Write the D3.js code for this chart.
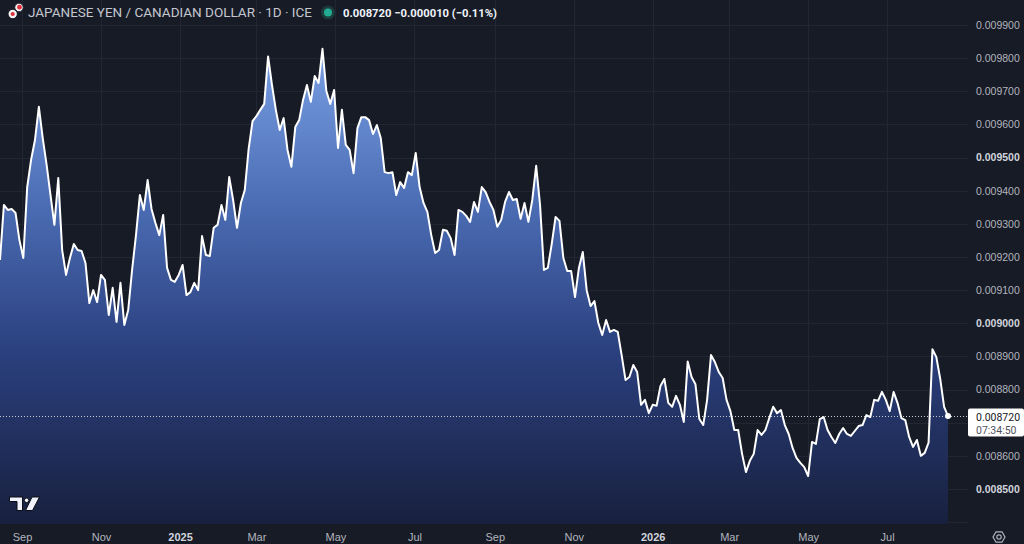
<!DOCTYPE html>
<html>
<head>
<meta charset="utf-8">
<script src="https://cdn.jsdelivr.net/npm/d3@7"></script>
<style>
  html, body { margin: 0; padding: 0; background: #171b26; }
  svg { display: block; font-family: Roboto, "Noto Sans", sans-serif; }
</style>
</head>
<body>
<div id="chart"></div>
<script>
// Header texts
const title = "JAPANESE YEN / CANADIAN DOLLAR · 1D · ICE";
const quote = "0.008720 −0.000010 (−0.11%)";
const lastLabel = "0.008720";
const countdown = "07:34:50";

// Series: one close read every 3 days from the picture
const startDate = "2024-08-15";
const stepDays = 3;
const values = [
  0.009191, 0.009357, 0.009342, 0.009345, 0.009333, 0.009251, 0.009197, 0.009411, 0.009493, 0.009553,
  0.009653, 0.009559, 0.009478, 0.009387, 0.009297, 0.009438, 0.009221, 0.009146, 0.009197, 0.009239,
  0.009221, 0.009218, 0.009182, 0.009061, 0.009100, 0.009064, 0.009146, 0.009131, 0.009025, 0.009107,
  0.009004, 0.009122, 0.008995, 0.009040, 0.009161, 0.009266, 0.009387, 0.009342, 0.009432, 0.009345,
  0.009303, 0.009266, 0.009327, 0.009167, 0.009131, 0.009125, 0.009146, 0.009176, 0.009085, 0.009094,
  0.009122, 0.009100, 0.009263, 0.009206, 0.009203, 0.009288, 0.009297, 0.009357, 0.009312, 0.009441,
  0.009372, 0.009288, 0.009363, 0.009402, 0.009526, 0.009610, 0.009625, 0.009644, 0.009662, 0.009805,
  0.009719, 0.009644, 0.009583, 0.009619, 0.009523, 0.009472, 0.009592, 0.009613, 0.009674, 0.009719,
  0.009668, 0.009746, 0.009725, 0.009828, 0.009701, 0.009662, 0.009704, 0.009529, 0.009644, 0.009538,
  0.009523, 0.009453, 0.009589, 0.009622, 0.009622, 0.009613, 0.009571, 0.009598, 0.009559, 0.009456,
  0.009453, 0.009456, 0.009387, 0.009426, 0.009408, 0.009456, 0.009447, 0.009514, 0.009411, 0.009363,
  0.009336, 0.009266, 0.009212, 0.009221, 0.009282, 0.009279, 0.009257, 0.009206, 0.009342, 0.009336,
  0.009324, 0.009306, 0.009366, 0.009336, 0.009411, 0.009396, 0.009366, 0.009342, 0.009291, 0.009312,
  0.009366, 0.009396, 0.009372, 0.009375, 0.009315, 0.009363, 0.009306, 0.009372, 0.009475, 0.009357,
  0.009161, 0.009167, 0.009239, 0.009321, 0.009309, 0.009197, 0.009158, 0.009158, 0.009079, 0.009167,
  0.009215, 0.009100, 0.009052, 0.009067, 0.009001, 0.008965, 0.009010, 0.008974, 0.008980, 0.008974,
  0.008904, 0.008829, 0.008838, 0.008874, 0.008853, 0.008754, 0.008769, 0.008729, 0.008754, 0.008751,
  0.008811, 0.008832, 0.008760, 0.008748, 0.008781, 0.008754, 0.008702, 0.008885, 0.008838, 0.008816,
  0.008711, 0.008693, 0.008769, 0.008904, 0.008883, 0.008853, 0.008835, 0.008769, 0.008735, 0.008678,
  0.008678, 0.008606, 0.008551, 0.008585, 0.008606, 0.008678, 0.008663, 0.008678, 0.008714, 0.008748,
  0.008729, 0.008738, 0.008693, 0.008666, 0.008624, 0.008594, 0.008579, 0.008566, 0.008539, 0.008642,
  0.008636, 0.008711, 0.008717, 0.008678, 0.008657, 0.008639, 0.008666, 0.008684, 0.008666, 0.008660,
  0.008675, 0.008690, 0.008693, 0.008723, 0.008717, 0.008769, 0.008766, 0.008793, 0.008769, 0.008735,
  0.008793, 0.008760, 0.008714, 0.008708, 0.008657, 0.008627, 0.008648, 0.008600, 0.008609, 0.008640,
  0.008922, 0.008898, 0.008832, 0.008748, 0.008720
];

// Axis ticks
const xTickDates = [
  "2024-09-01", "2024-11-01", "2025-01-01", "2025-03-01", "2025-05-01", "2025-07-01",
  "2025-09-01", "2025-11-01", "2026-01-01", "2026-03-01", "2026-05-01", "2026-07-01"
];
const yGridValues = [0.0084, 0.0085, 0.0086, 0.0087, 0.0088, 0.0089, 0.0090, 0.0091,
  0.0092, 0.0093, 0.0094, 0.0095, 0.0096, 0.0097, 0.0098, 0.0099];
// 0.008700 is hidden under the last price box
const yLabelValues = [0.0085, 0.0086, 0.0088, 0.0089, 0.0090, 0.0091,
  0.0092, 0.0093, 0.0094, 0.0095, 0.0096, 0.0097, 0.0098, 0.0099];

const width = 1024;
const height = 544;
const plot = { left: 0, right: 968, top: 0, bottom: 524 };

const parse = d3.utcParse("%Y-%m-%d");
const t0 = parse(startDate);
const data = values.map((v, i) => ({ date: d3.utcDay.offset(t0, i * stepDays), value: v }));
const last = data[data.length - 1];

const svg = d3.select("#chart")
  .append("svg")
  .attr("width", width)
  .attr("height", height);

svg.append("rect").attr("width", width).attr("height", height).attr("fill", "#171b26");

const x = d3.scaleUtc()
  .domain(d3.extent(data, (d) => d.date))
  .range([plot.left, 948]);

const y = d3.scaleLinear()
  .domain([0.0083944, 0.0099754])
  .range([plot.bottom, plot.top]);

// Gradient for the area
const defs = svg.append("defs");
const grad = defs.append("linearGradient")
  .attr("id", "areaFill")
  .attr("gradientUnits", "userSpaceOnUse")
  .attr("x1", 0).attr("y1", 40)
  .attr("x2", 0).attr("y2", plot.bottom);
grad.append("stop").attr("offset", "0%").attr("stop-color", "#7ca2e6");
grad.append("stop").attr("offset", "35%").attr("stop-color", "#4a6bb2");
grad.append("stop").attr("offset", "65%").attr("stop-color", "#2a3f7d");
grad.append("stop").attr("offset", "100%").attr("stop-color", "#18203e");

defs.append("clipPath").attr("id", "plotClip")
  .append("rect")
  .attr("x", plot.left).attr("y", plot.top)
  .attr("width", plot.right - plot.left)
  .attr("height", plot.bottom - plot.top);

// Grid
const grid = svg.append("g").attr("stroke", "#222632").attr("stroke-width", 1);
grid.selectAll(".hgrid")
  .data(yGridValues)
  .join("line")
  .attr("x1", plot.left).attr("x2", plot.right)
  .attr("y1", (d) => Math.round(y(d)) + 0.5)
  .attr("y2", (d) => Math.round(y(d)) + 0.5);
grid.selectAll(".vgrid")
  .data(xTickDates)
  .join("line")
  .attr("x1", (d) => Math.round(x(parse(d))) + 0.5)
  .attr("x2", (d) => Math.round(x(parse(d))) + 0.5)
  .attr("y1", plot.top).attr("y2", plot.bottom);

// Area and line
const chart = svg.append("g").attr("clip-path", "url(#plotClip)");

const area = d3.area()
  .x((d) => x(d.date))
  .y0(plot.bottom)
  .y1((d) => y(d.value));

const line = d3.line()
  .x((d) => x(d.date))
  .y((d) => y(d.value));

chart.append("path")
  .datum(data)
  .attr("fill", "url(#areaFill)")
  .attr("d", area);

// Last price dotted line
chart.append("line")
  .attr("x1", plot.left).attr("x2", plot.right)
  .attr("y1", Math.round(y(last.value)) + 0.5)
  .attr("y2", Math.round(y(last.value)) + 0.5)
  .attr("stroke", "#c9ccd3")
  .attr("stroke-width", 1)
  .attr("stroke-dasharray", "1 2");

chart.append("path")
  .datum(data)
  .attr("fill", "none")
  .attr("stroke", "#ffffff")
  .attr("stroke-width", 2)
  .attr("stroke-linejoin", "round")
  .attr("d", line);

chart.append("circle")
  .attr("cx", x(last.date))
  .attr("cy", y(last.value))
  .attr("r", 3)
  .attr("fill", "#ffffff");

// Right price axis
const yAxis = svg.append("g")
  .attr("transform", `translate(${plot.right},0)`)
  .call(d3.axisRight(y).tickValues(yLabelValues).tickSize(0).tickPadding(8).tickFormat(d3.format(".6f")));
yAxis.select(".domain").remove();
yAxis.selectAll("text")
  .style("font-size", "10.5px")
  .style("fill", (d) => (Math.round(d * 10000) % 5 === 0 ? "#d1d4dc" : "#b2b5be"))
  .style("font-weight", (d) => (Math.round(d * 10000) % 5 === 0 ? "700" : "400"));

// Bottom time axis
const xAxis = svg.append("g")
  .attr("transform", `translate(0,${plot.bottom})`)
  .call(d3.axisBottom(x)
    .tickValues(xTickDates.map(parse))
    .tickSize(0)
    .tickPadding(9)
    .tickFormat((d) => (d.getUTCMonth() === 0 ? d3.utcFormat("%Y")(d) : d3.utcFormat("%b")(d))));
xAxis.select(".domain").remove();
xAxis.selectAll("text")
  .style("font-size", "11px")
  .style("fill", (d) => (d.getUTCMonth() === 0 ? "#d1d4dc" : "#b2b5be"))
  .style("font-weight", (d) => (d.getUTCMonth() === 0 ? "700" : "400"));

// Last price box
const boxY = y(last.value) - 7.5;
svg.append("rect")
  .attr("x", plot.right)
  .attr("y", boxY)
  .attr("width", width - plot.right)
  .attr("height", 28)
  .attr("rx", 2)
  .attr("fill", "#ffffff");
svg.append("text")
  .attr("x", 976).attr("y", boxY + 12.5)
  .style("font-size", "10.5px")
  .style("fill", "#131722")
  .text(lastLabel);
svg.append("text")
  .attr("x", 976).attr("y", boxY + 25)
  .style("font-size", "10.5px")
  .style("fill", "#50535e")
  .text(countdown);

// Header
const header = svg.append("g");
header.append("circle").attr("cx", 19).attr("cy", 7.5).attr("r", 4.2)
  .attr("fill", "#f0f0f0").attr("stroke", "#171b26").attr("stroke-width", 0.8);
header.append("circle").attr("cx", 19.5).attr("cy", 7.2).attr("r", 2.4).attr("fill", "#e0323e");
header.append("circle").attr("cx", 12.7).attr("cy", 14).attr("r", 4.8)
  .attr("fill", "#f4f4f4").attr("stroke", "#171b26").attr("stroke-width", 1.2);
header.append("circle").attr("cx", 12.7).attr("cy", 14).attr("r", 2.1).attr("fill", "#e0323e");

header.append("text")
  .attr("x", 28).attr("y", 17)
  .attr("textLength", 284)
  .attr("lengthAdjust", "spacingAndGlyphs")
  .style("font-size", "13px")
  .style("fill", "#c4c7cf")
  .text(title);

header.append("circle").attr("cx", 328).attr("cy", 12.5).attr("r", 7).attr("fill", "#1d3b3a");
header.append("circle").attr("cx", 328).attr("cy", 12.5).attr("r", 4).attr("fill", "#22ab94");

header.append("text")
  .attr("x", 343).attr("y", 16.5)
  .attr("textLength", 154)
  .attr("lengthAdjust", "spacingAndGlyphs")
  .style("font-size", "11.5px")
  .style("font-weight", "700")
  .style("fill", "#f0f3fa")
  .text(quote);

// TradingView mark
const logo = svg.append("g")
  .attr("fill", "#f0f3fa")
  .attr("stroke", "#0b0d12")
  .attr("stroke-width", 1);
logo.append("path").attr("d", "M9.5,497 H22.5 V510.5 H17 V501.5 H9.5 Z");
logo.append("circle").attr("cx", 26.6).attr("cy", 500.3).attr("r", 2.3);
logo.append("path").attr("d", "M32,497 H39.5 L32.5,510.5 H25.5 Z");

// Settings icon
const gear = svg.append("g")
  .attr("transform", "translate(999,537)")
  .attr("fill", "none")
  .attr("stroke", "#b2b5be")
  .attr("stroke-width", 1.2);
gear.append("path")
  .attr("d", d3.range(6).map((k) => {
    const a = Math.PI / 3 * k;
    return (k === 0 ? "M" : "L") + (6 * Math.cos(a)).toFixed(2) + "," + (6 * Math.sin(a)).toFixed(2);
  }).join("") + "Z");
gear.append("circle").attr("r", 2.2);
</script>
</body>
</html>
